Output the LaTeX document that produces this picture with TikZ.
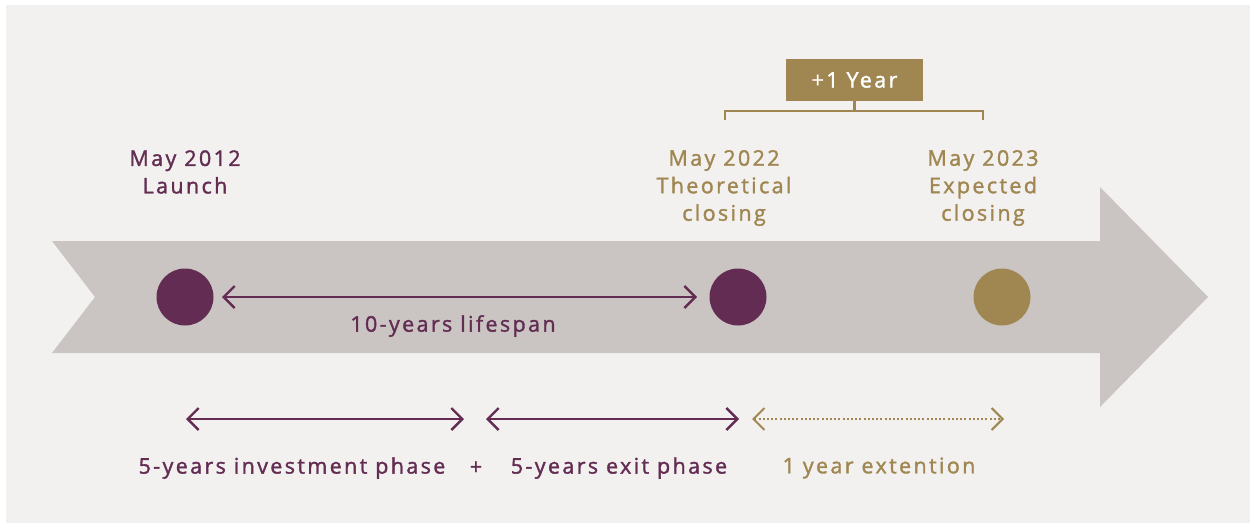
\documentclass[tikz,border=0pt]{standalone}
\usepackage{fontspec}
\setmainfont{Open Sans}[LetterSpace=11, FakeBold=1.5]
\usetikzlibrary{arrows.meta}
\definecolor{plum}{HTML}{632C53}
\definecolor{ochre}{HTML}{A08752}
\definecolor{band}{HTML}{CAC5C2}
\definecolor{paper}{HTML}{F2F1EF}
\tikzset{
  lbl/.style={font=\fontsize{21.5}{27.5}\selectfont, align=center, inner sep=0pt},
  span/.style={line width=2.4pt, {Straight Barb[length=11pt,width=22pt,line width=2.4pt]}-{Straight Barb[length=11pt,width=22pt,line width=2.4pt]}},
  dot/.style={circle, minimum size=57pt, inner sep=0pt},
}
\begin{document}
\begin{tikzpicture}[x=1pt,y=-1pt]
\useasboundingbox (0,0) rectangle (1250,523);
% backdrop
\fill[paper] (6,5) rectangle (1250,523);
% timeline band
\fill[band] (52,241) -- (1100,241) -- (1100,187) -- (1208,297) -- (1100,407)
  -- (1100,353) -- (52,353) -- (95,297) -- cycle;
% milestones
\node[dot, fill=plum]  (launch) at (185,297) {};
\node[dot, fill=plum]  (theo)   at (738,297) {};
\node[dot, fill=ochre] (expect) at (1002,297) {};
% milestone captions
\node[lbl, text=plum]  (capL) at (185,172) {May 2012\\Launch};
\node[lbl, text=ochre] (capT) at (724,188) {May 2022\\Theoretical\\closing};
\node[lbl, text=ochre] (capE) at (983,188) {May 2023\\Expected\\closing};
% extension badge and bracket
\node[fill=ochre, text=white, minimum width=137pt, minimum height=42pt, inner sep=0pt,
  font=\fontsize{21.5}{25}\selectfont] (badge) at (854.5,80) {+1 Year};
\coordinate (bl) at (725,120);
\coordinate (br) at (983,120);
\coordinate (bm) at (854.5,111);
\draw[ochre, line width=2.4pt] (bl) |- (bm) -| (br);
\draw[ochre, line width=2.4pt] (badge.south) -- (bm);
% lifespan
\coordinate (lifeA) at (222,297);
\coordinate (lifeB) at (697,297);
\draw[plum, span] (lifeA) -- (lifeB);
\node[lbl, text=plum] (life) at (453,326) {10-years lifespan};
% phases
\coordinate (p1a) at (186,419);
\coordinate (p1b) at (464,419);
\coordinate (p2a) at (486,419);
\coordinate (p2b) at (739,419);
\coordinate (p3a) at (752,419);
\coordinate (p3b) at (1004,419);
\draw[plum, span] (p1a) -- (p1b);
\draw[plum, span] (p2a) -- (p2b);
\draw[ochre, line width=2pt, dash pattern=on 2pt off 2.2pt,
  {Straight Barb[length=11pt,width=22pt,line width=2pt]}-{Straight Barb[length=11pt,width=22pt,line width=2pt]}] (p3a) -- (p3b);
\node[lbl, text=plum]  (ph1)  at (292,468) {5-years investment phase};
\node[lbl, text=plum]  (plus) at (476,468) {+};
\node[lbl, text=plum]  (ph2)  at (619,468) {5-years exit phase};
\node[lbl, text=ochre] (ph3)  at (879,468) {1 year extention};
\end{tikzpicture}
\end{document}
